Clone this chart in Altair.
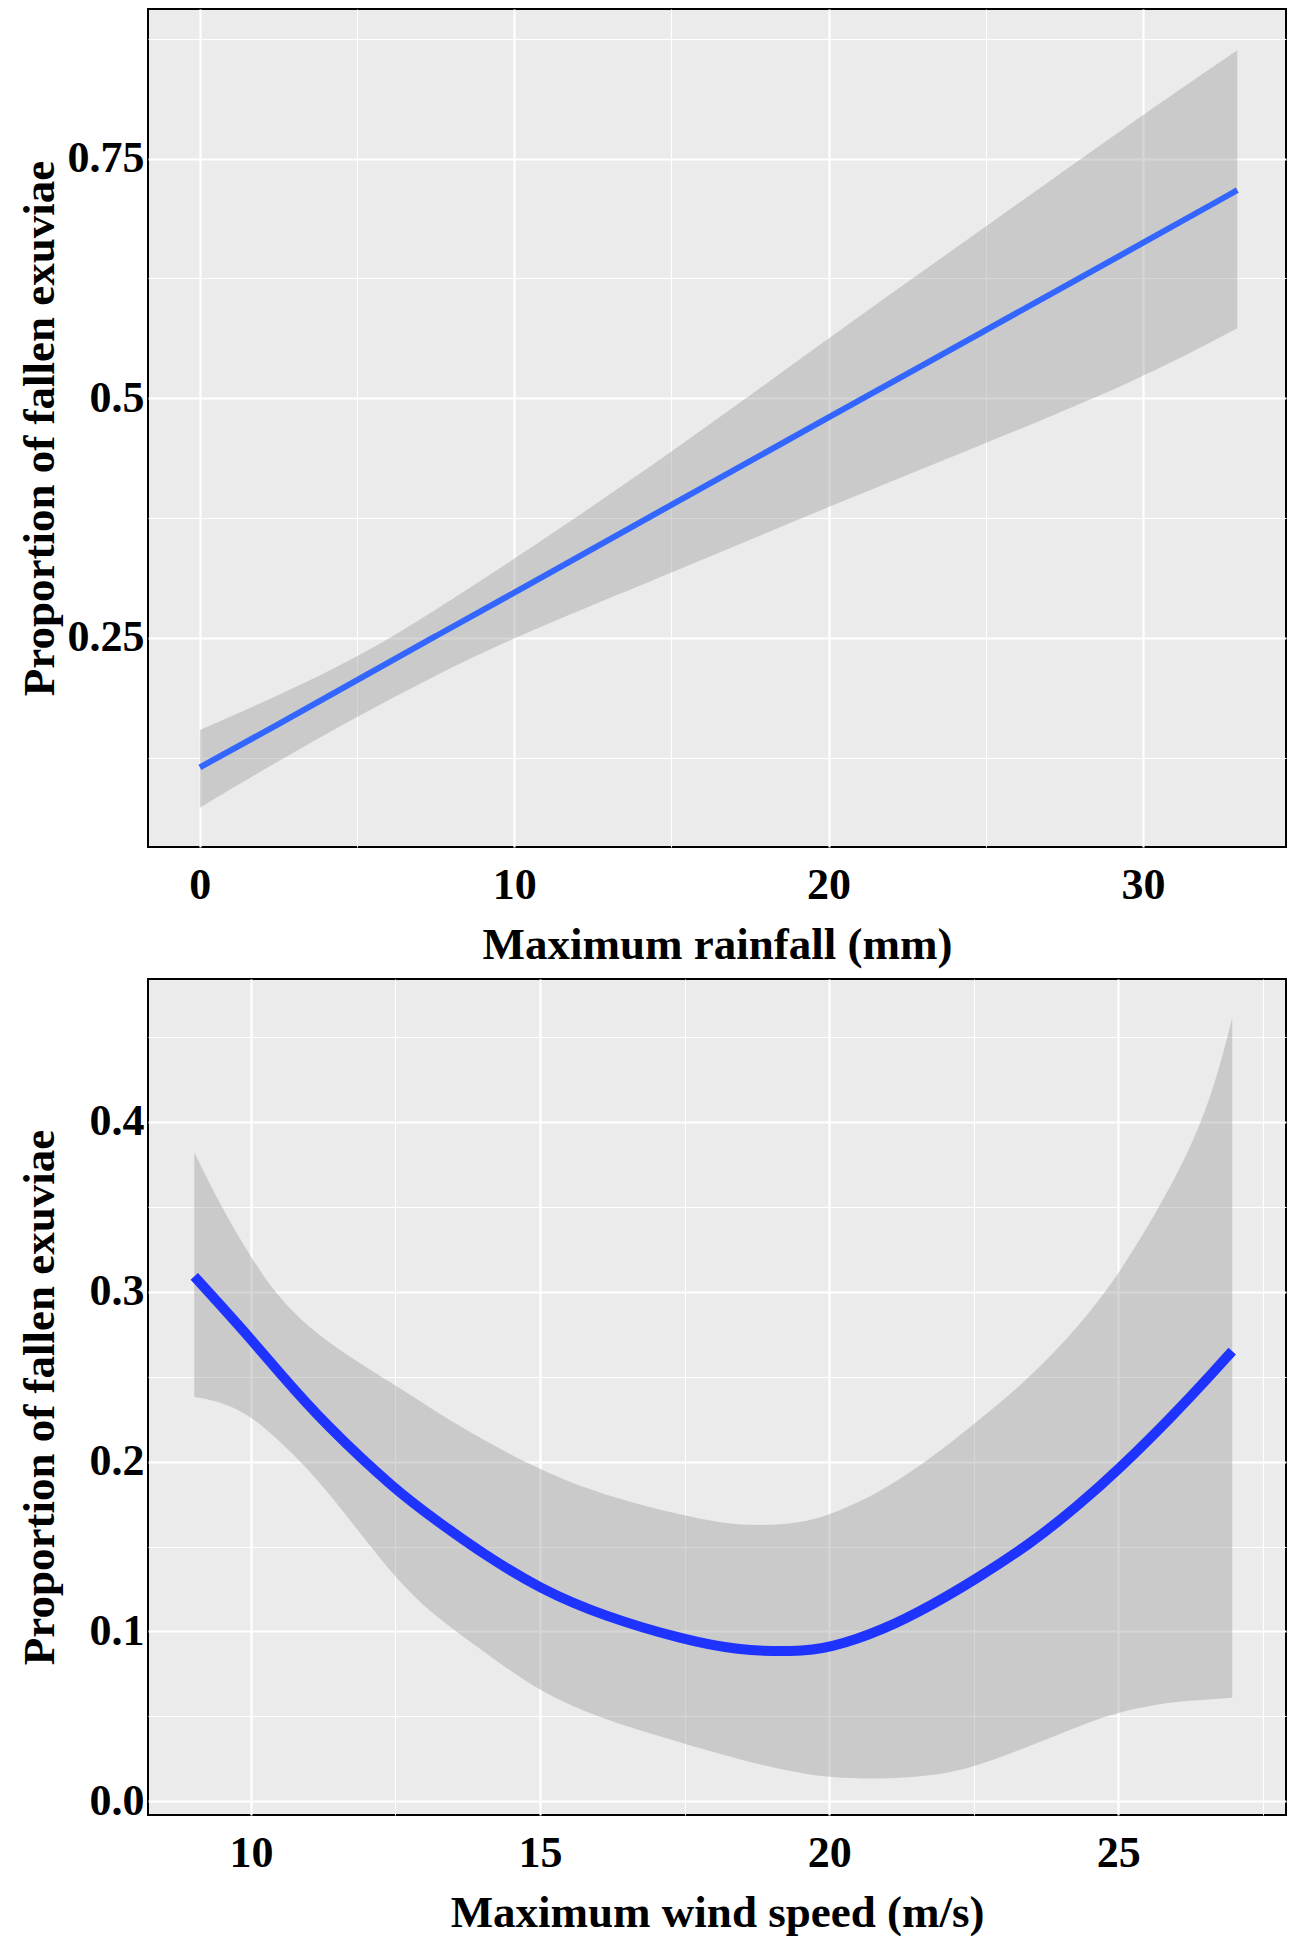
import altair as alt
import pandas as pd

# ---------------- data ----------------
# Panel 1: Maximum rainfall (mm)
rain_x = [0, 2.5, 5, 7.5, 10, 15, 20, 25, 30, 33]
rain_fit = [0.115, 0.160, 0.206, 0.252, 0.297, 0.389, 0.480, 0.571, 0.662, 0.717]
rain_lo = [0.073, 0.122, 0.168, 0.211, 0.251, 0.318, 0.387, 0.453, 0.521, 0.573]
rain_hi = [0.154, 0.190, 0.229, 0.279, 0.332, 0.443, 0.563, 0.679, 0.796, 0.863]

# Panel 2: Maximum wind speed (m/s)
wind_x = [9.02, 9.5, 10, 10.5, 11.25, 12.5, 13.26, 14, 15, 16.1, 17.5, 18.4,
          19.4, 20, 20.95, 21.8, 22.5, 23.5, 24.3, 25, 26, 26.6, 26.97]
wind_fit = [0.309, 0.291, 0.272, 0.252, 0.223, 0.183, 0.164, 0.146, 0.125, 0.109,
            0.095, 0.089, 0.088, 0.090, 0.101, 0.116, 0.130, 0.152, 0.174, 0.195,
            0.229, 0.251, 0.265]
wind_lo = [0.238, 0.235, 0.227, 0.212, 0.187, 0.130, 0.107, 0.089, 0.064, 0.048,
           0.034, 0.025, 0.017, 0.014, 0.013, 0.015, 0.020, 0.033, 0.044, 0.053,
           0.059, 0.060, 0.061]
wind_hi = [0.382, 0.349, 0.320, 0.295, 0.271, 0.245, 0.228, 0.213, 0.195, 0.180,
           0.168, 0.162, 0.163, 0.168, 0.183, 0.203, 0.222, 0.250, 0.279, 0.309,
           0.366, 0.412, 0.461]

# axis ticks
rain_xmaj = [0, 10, 20, 30]
rain_xmin = [5, 15, 25]
rain_ymaj = [0.25, 0.5, 0.75]
rain_ymin = [0.125, 0.375, 0.625, 0.875]

wind_xmaj = [10, 15, 20, 25]
wind_xmin = [12.5, 17.5, 22.5, 27.5]
wind_ymaj = [0.0, 0.1, 0.2, 0.3, 0.4]
wind_ymin = [0.05, 0.15, 0.25, 0.35, 0.45]

FONT = "Liberation Serif"
PLOT_W = 1138


def make_axis(maj, mnr, fmt, title, orient):
    vals = sorted(maj + mnr)
    test = f"indexof({maj}, datum.value) >= 0"
    kw = dict(
        values=vals,
        title=title,
        labelExpr=f"{test} ? format(datum.value, '{fmt}') : ''",
        gridWidth={"condition": {"test": test, "value": 2.2}, "value": 1.1},
    )
    if orient == "x":
        kw.update(labelPadding=16, titleY=97, titleBaseline="middle")
    else:
        kw.update(labelPadding=4, titleX=-86)
    return alt.Axis(**kw)


def panel(x, fit, lo, hi, xdom, ydom, xaxis, yaxis, line_color, line_w, height):
    df = pd.DataFrame({"x": x, "fit": fit, "lo": lo, "hi": hi})
    xs = alt.Scale(domain=xdom, nice=False, zero=False)
    ys = alt.Scale(domain=ydom, nice=False, zero=False)
    band = alt.Chart(df).mark_area(
        color="#999999", opacity=0.4, interpolate="basis"
    ).encode(
        x=alt.X("x:Q", scale=xs, axis=xaxis),
        y=alt.Y("lo:Q", scale=ys, axis=yaxis),
        y2="hi:Q",
    )
    line = alt.Chart(df).mark_line(
        color=line_color, strokeWidth=line_w, interpolate="basis"
    ).encode(
        x=alt.X("x:Q", scale=xs, axis=xaxis),
        y=alt.Y("fit:Q", scale=ys, axis=yaxis),
    )
    return alt.layer(band, line).properties(width=PLOT_W, height=height)


top = panel(
    rain_x, rain_fit, rain_lo, rain_hi,
    [-1.65, 34.55], [0.032, 0.906],
    make_axis(rain_xmaj, rain_xmin, "~g", "Maximum rainfall (mm)", "x"),
    make_axis(rain_ymaj, rain_ymin, "~g", "Proportion of fallen exuviae", "y"),
    "#3366FF", 6, 838,
)

bottom = panel(
    wind_x, wind_fit, wind_lo, wind_hi,
    [8.22, 27.9], [-0.008, 0.484],
    make_axis(wind_xmaj, wind_xmin, "~g", "Maximum wind speed (m/s)", "x"),
    make_axis(wind_ymaj, wind_ymin, ".1f", "Proportion of fallen exuviae", "y"),
    "#1F33FF", 10, 836,
)

chart = alt.vconcat(top, bottom, spacing=10).properties(
    padding={"left": 8, "top": 0, "right": 0, "bottom": 0}, background="white"
).configure_view(
    fill="#EBEBEB", stroke="black", strokeWidth=2
).configure_axis(
    domain=False,
    ticks=False,
    grid=True,
    gridColor="white",
    gridOpacity=1,
    labelFont=FONT,
    labelFontWeight="bold",
    labelFontSize=44,
    labelColor="black",
    titleFont=FONT,
    titleFontWeight="bold",
    titleFontSize=45,
    titleColor="black",
)

chart.save("out.html", embed_options={"renderer": "svg", "actions": False})
